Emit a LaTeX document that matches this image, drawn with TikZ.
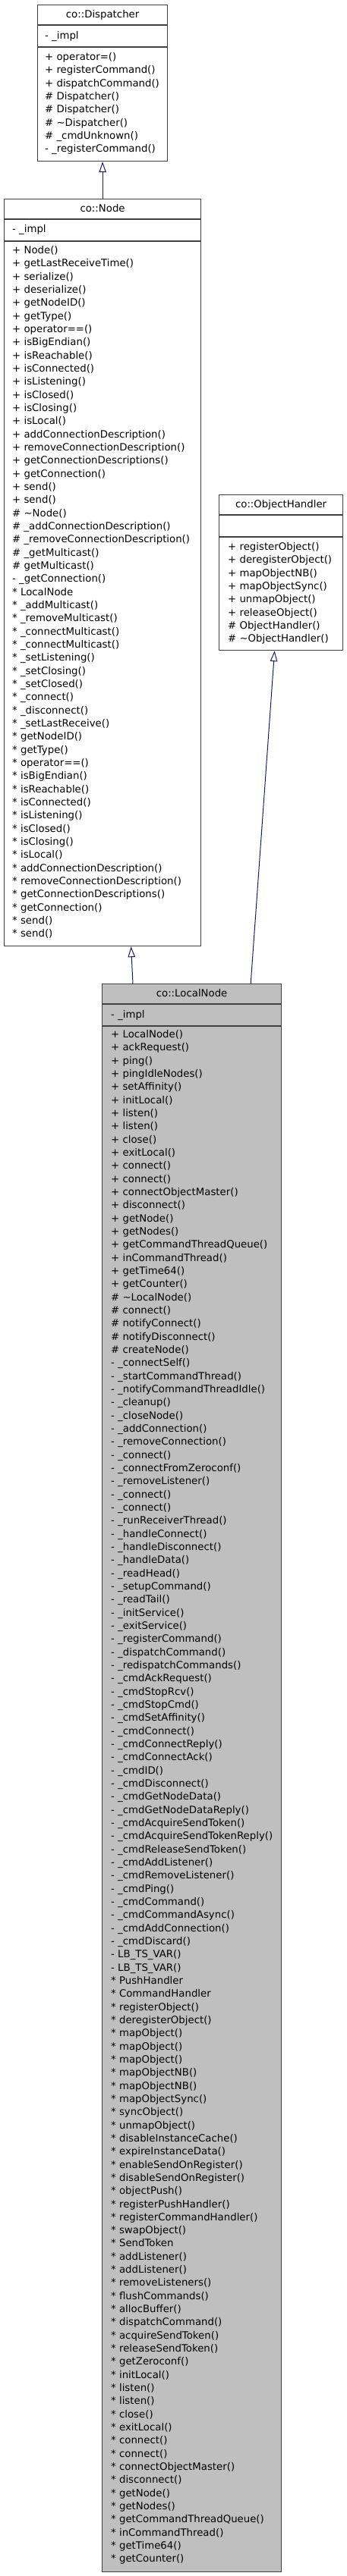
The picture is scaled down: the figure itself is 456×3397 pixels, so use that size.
\documentclass[tikz,border=0pt]{standalone}
\usepackage{fontspec}
\setmainfont{DejaVu Sans}
\usetikzlibrary{arrows.meta}
\definecolor{boxline}{HTML}{404040}
\definecolor{boxgray}{HTML}{BFBFBF}
\definecolor{edgeblue}{HTML}{191970}
\newcommand\umlfont{\fontsize{13.3}{17.33}\selectfont}
\newcommand\membskip{17.33}
\newcommand\startmembers[3]{\def\mprefix{#1}\def\mx{#2}\pgfmathsetmacro\my{#3}\def\mi{0}}
\newcommand\memb[1]{
  \pgfmathtruncatemacro\mi{\mi + 1}
  \node[member] (\mprefix\mi) at (\mx, \my) {#1} ;
  \pgfmathsetmacro\my{\my + \membskip}
}
\newcommand\compartments[1]{
  \draw[boxrule] ([yshift=-27pt]#1.north west) -- ([yshift=-27pt]#1.north east) ;
  \draw[boxrule] ([yshift=-56pt]#1.north west) -- ([yshift=-56pt]#1.north east) ;
}
\tikzset{
  classbox/.style={draw=boxline, line width=1.2pt, anchor=north west, inner sep=0pt},
  boxrule/.style={draw=boxline, line width=1.2pt},
  classtitle/.style={font=\umlfont, inner sep=0pt, text height=9.8pt, text depth=2.6pt},
  member/.style={classtitle, anchor=west},
  inherit/.style={draw=edgeblue, line width=1pt, -{Triangle[open, length=14pt, width=9.5pt]}},
}
\begin{document}
\begin{tikzpicture}[x=1pt, y=-1pt]
  \useasboundingbox (0, 0) rectangle (456, 3397) ;

  % co::Dispatcher
  \node[classbox, minimum width=171pt, minimum height=206pt] (dispatcher) at (49, 6) {} ;
  \compartments{dispatcher}
  \node[classtitle] (dispatcher-title) at ([yshift=-13.5pt]dispatcher.north) {co::Dispatcher} ;
  \node[member] (dispatcher-attr) at ([xshift=10pt, yshift=-41.5pt]dispatcher.north west) {- \_impl} ;
  \startmembers{dispm}{59}{76}
  \memb{+ operator=()}
  \memb{+ registerCommand()}
  \memb{+ dispatchCommand()}
  \memb{\# Dispatcher()}
  \memb{\# Dispatcher()}
  \memb{\# \textasciitilde Dispatcher()}
  \memb{\# \_cmdUnknown()}
  \memb{- \_registerCommand()}

  % co::Node
  \node[classbox, minimum width=259pt, minimum height=985pt] (conode) at (5, 262) {} ;
  \compartments{conode}
  \node[classtitle] (conode-title) at ([yshift=-13.5pt]conode.north) {co::Node} ;
  \node[member] (conode-attr) at ([xshift=11pt, yshift=-41pt]conode.north west) {- \_impl} ;
  \startmembers{nodem}{16}{331}
  \memb{+ Node()}
  \memb{+ getLastReceiveTime()}
  \memb{+ serialize()}
  \memb{+ deserialize()}
  \memb{+ getNodeID()}
  \memb{+ getType()}
  \memb{+ operator==()}
  \memb{+ isBigEndian()}
  \memb{+ isReachable()}
  \memb{+ isConnected()}
  \memb{+ isListening()}
  \memb{+ isClosed()}
  \memb{+ isClosing()}
  \memb{+ isLocal()}
  \memb{+ addConnectionDescription()}
  \memb{+ removeConnectionDescription()}
  \memb{+ getConnectionDescriptions()}
  \memb{+ getConnection()}
  \memb{+ send()}
  \memb{+ send()}
  \memb{\# \textasciitilde Node()}
  \memb{\# \_addConnectionDescription()}
  \memb{\# \_removeConnectionDescription()}
  \memb{\# \_getMulticast()}
  \memb{\# getMulticast()}
  \memb{- \_getConnection()}
  \memb{* LocalNode}
  \memb{* \_addMulticast()}
  \memb{* \_removeMulticast()}
  \memb{* \_connectMulticast()}
  \memb{* \_connectMulticast()}
  \memb{* \_setListening()}
  \memb{* \_setClosing()}
  \memb{* \_setClosed()}
  \memb{* \_connect()}
  \memb{* \_disconnect()}
  \memb{* \_setLastReceive()}
  \memb{* getNodeID()}
  \memb{* getType()}
  \memb{* operator==()}
  \memb{* isBigEndian()}
  \memb{* isReachable()}
  \memb{* isConnected()}
  \memb{* isListening()}
  \memb{* isClosed()}
  \memb{* isClosing()}
  \memb{* isLocal()}
  \memb{* addConnectionDescription()}
  \memb{* removeConnectionDescription()}
  \memb{* getConnectionDescriptions()}
  \memb{* getConnection()}
  \memb{* send()}
  \memb{* send()}

  % co::ObjectHandler
  \node[classbox, minimum width=163pt, minimum height=205pt] (objhandler) at (288, 652) {} ;
  \compartments{objhandler}
  \node[classtitle] (objhandler-title) at ([yshift=-13.5pt]objhandler.north) {co::ObjectHandler} ;
  \startmembers{ohm}{300}{722}
  \memb{+ registerObject()}
  \memb{+ deregisterObject()}
  \memb{+ mapObjectNB()}
  \memb{+ mapObjectSync()}
  \memb{+ unmapObject()}
  \memb{+ releaseObject()}
  \memb{\# ObjectHandler()}
  \memb{\# \textasciitilde ObjectHandler()}

  % co::LocalNode
  \node[classbox, fill=boxgray, minimum width=236pt, minimum height=2094pt] (localnode) at (134, 1297) {} ;
  \compartments{localnode}
  \node[classtitle] (localnode-title) at ([yshift=-13.5pt]localnode.north) {co::LocalNode} ;
  \node[member] (localnode-attr) at ([xshift=12pt, yshift=-41.5pt]localnode.north west) {- \_impl} ;
  \startmembers{lnm}{146}{1365}
  \memb{+ LocalNode()}
  \memb{+ ackRequest()}
  \memb{+ ping()}
  \memb{+ pingIdleNodes()}
  \memb{+ setAffinity()}
  \memb{+ initLocal()}
  \memb{+ listen()}
  \memb{+ listen()}
  \memb{+ close()}
  \memb{+ exitLocal()}
  \memb{+ connect()}
  \memb{+ connect()}
  \memb{+ connectObjectMaster()}
  \memb{+ disconnect()}
  \memb{+ getNode()}
  \memb{+ getNodes()}
  \memb{+ getCommandThreadQueue()}
  \memb{+ inCommandThread()}
  \memb{+ getTime64()}
  \memb{+ getCounter()}
  \memb{\# \textasciitilde LocalNode()}
  \memb{\# connect()}
  \memb{\# notifyConnect()}
  \memb{\# notifyDisconnect()}
  \memb{\# createNode()}
  \memb{- \_connectSelf()}
  \memb{- \_startCommandThread()}
  \memb{- \_notifyCommandThreadIdle()}
  \memb{- \_cleanup()}
  \memb{- \_closeNode()}
  \memb{- \_addConnection()}
  \memb{- \_removeConnection()}
  \memb{- \_connect()}
  \memb{- \_connectFromZeroconf()}
  \memb{- \_removeListener()}
  \memb{- \_connect()}
  \memb{- \_connect()}
  \memb{- \_runReceiverThread()}
  \memb{- \_handleConnect()}
  \memb{- \_handleDisconnect()}
  \memb{- \_handleData()}
  \memb{- \_readHead()}
  \memb{- \_setupCommand()}
  \memb{- \_readTail()}
  \memb{- \_initService()}
  \memb{- \_exitService()}
  \memb{- \_registerCommand()}
  \memb{- \_dispatchCommand()}
  \memb{- \_redispatchCommands()}
  \memb{- \_cmdAckRequest()}
  \memb{- \_cmdStopRcv()}
  \memb{- \_cmdStopCmd()}
  \memb{- \_cmdSetAffinity()}
  \memb{- \_cmdConnect()}
  \memb{- \_cmdConnectReply()}
  \memb{- \_cmdConnectAck()}
  \memb{- \_cmdID()}
  \memb{- \_cmdDisconnect()}
  \memb{- \_cmdGetNodeData()}
  \memb{- \_cmdGetNodeDataReply()}
  \memb{- \_cmdAcquireSendToken()}
  \memb{- \_cmdAcquireSendTokenReply()}
  \memb{- \_cmdReleaseSendToken()}
  \memb{- \_cmdAddListener()}
  \memb{- \_cmdRemoveListener()}
  \memb{- \_cmdPing()}
  \memb{- \_cmdCommand()}
  \memb{- \_cmdCommandAsync()}
  \memb{- \_cmdAddConnection()}
  \memb{- \_cmdDiscard()}
  \memb{- LB\_TS\_VAR()}
  \memb{- LB\_TS\_VAR()}
  \memb{* PushHandler}
  \memb{* CommandHandler}
  \memb{* registerObject()}
  \memb{* deregisterObject()}
  \memb{* mapObject()}
  \memb{* mapObject()}
  \memb{* mapObject()}
  \memb{* mapObjectNB()}
  \memb{* mapObjectNB()}
  \memb{* mapObjectSync()}
  \memb{* syncObject()}
  \memb{* unmapObject()}
  \memb{* disableInstanceCache()}
  \memb{* expireInstanceData()}
  \memb{* enableSendOnRegister()}
  \memb{* disableSendOnRegister()}
  \memb{* objectPush()}
  \memb{* registerPushHandler()}
  \memb{* registerCommandHandler()}
  \memb{* swapObject()}
  \memb{* SendToken}
  \memb{* addListener()}
  \memb{* addListener()}
  \memb{* removeListeners()}
  \memb{* flushCommands()}
  \memb{* allocBuffer()}
  \memb{* dispatchCommand()}
  \memb{* acquireSendToken()}
  \memb{* releaseSendToken()}
  \memb{* getZeroconf()}
  \memb{* initLocal()}
  \memb{* listen()}
  \memb{* listen()}
  \memb{* close()}
  \memb{* exitLocal()}
  \memb{* connect()}
  \memb{* connect()}
  \memb{* connectObjectMaster()}
  \memb{* disconnect()}
  \memb{* getNode()}
  \memb{* getNodes()}
  \memb{* getCommandThreadQueue()}
  \memb{* inCommandThread()}
  \memb{* getTime64()}
  \memb{* getCounter()}

  % inheritance
  \draw[inherit] (conode.north) -- (dispatcher.south) ;
  \draw[inherit] ([xshift=41pt]localnode.north west) -- ([xshift=37.5pt]conode.south) ;
  \draw[inherit] ([xshift=-41pt]localnode.north east) -- ([xshift=-8.5pt]objhandler.south) ;
\end{tikzpicture}
\end{document}
